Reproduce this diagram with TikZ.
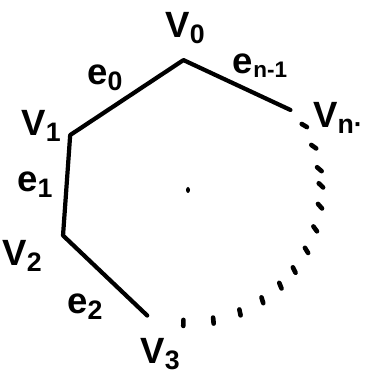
\documentclass[tikz,border=0pt]{standalone}
\usepackage{fontspec}
\setmainfont{Liberation Sans}
\usepackage{tikz}
\usetikzlibrary{positioning}

% label with a lowered index
\newcommand{\lab}[2]{#1\raisebox{-0.3ex}{\fontsize{19}{20}\selectfont #2}}

\begin{document}
\begin{tikzpicture}[
    x=0.25mm, y=0.25mm,
    every node/.style={
        inner sep=0pt,
        font=\fontsize{26}{30}\selectfont\bfseries
    },
    edge/.style={line width=3pt, line join=round, line cap=round},
    tick/.style={line width=3.3pt, line cap=round}
]
\useasboundingbox (-188,-186) rectangle (177,190);

% Vertices on a circle round the centre
\coordinate (center) at (0,0);
\coordinate (v0) at (92:130);
\coordinate (v1) at (155:130);
\coordinate (v2) at (200:133);
\coordinate (v3) at (252:132);
\coordinate (vn) at (38:130);

% Vertex labels
\node (lv0) at (-3,162) {\lab{V}{0}};
\node (lv1) at (-147,64) {\lab{V}{1}};
\node (lv2) at (-166,-66) {\lab{V}{2}};
\node (lv3) at (-28,-164) {\lab{V}{3}};
\node (lvn) at (150,72) {\lab{V}{n·}};

% Edge labels
\node (le0) at (-83,112) {\lab{e}{0}};
\node (len) at (72,124) {e\raisebox{-0.2ex}{\fontsize{16}{18}\selectfont n-1}};
\node (le1) at (-153,5) {\lab{e}{1}};
\node (le2) at (-103,-117) {\lab{e}{2}};

% Edges
\draw[edge] (v3) -- (v2) -- (v1) -- (v0) -- (vn);

% The rest of the polygon, dotted
\foreach \a in {29,19,9,2,-7,-17,-27,-37,-46,-56,-67,-79,-92}
    \draw[tick] (\a:133) ++({\a/2-45}:-3) -- ++({\a/2-45}:6);

% Centre
\fill (center) ellipse (2 and 3);
\end{tikzpicture}
\end{document}
